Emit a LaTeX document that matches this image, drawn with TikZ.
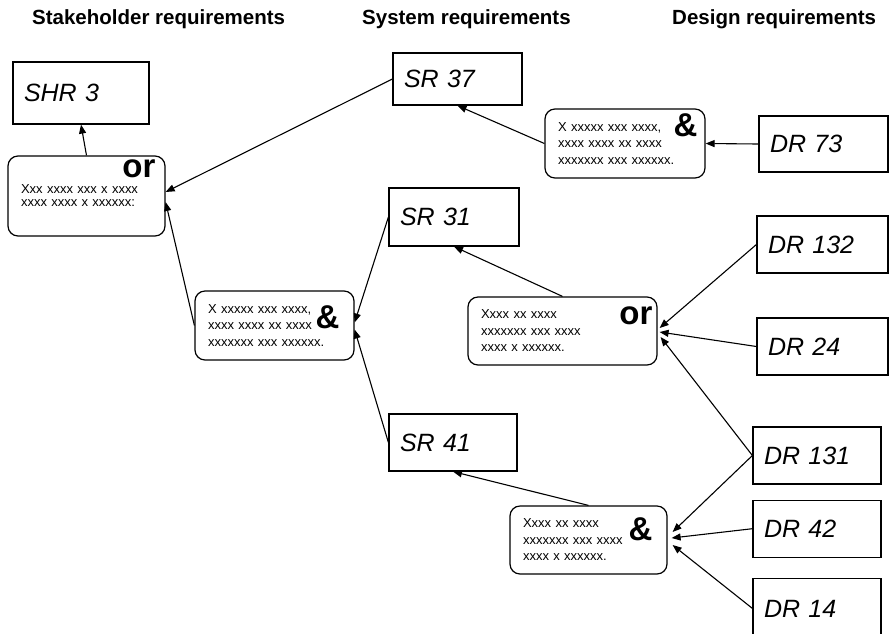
\documentclass[tikz,border=0pt]{standalone}
\usepackage{fontspec}
\setmainfont{Liberation Sans}
\usetikzlibrary{positioning, arrows.meta}
\tikzset{
  req/.style={draw, line width=1.2pt, inner xsep=11pt, inner ysep=0pt,
    text width=107pt, align=left, minimum height=57pt,
    font=\fontsize{25}{30}\selectfont\itshape},
  op/.style={draw, rounded corners=10pt, line width=1.2pt, inner xsep=13pt,
    inner ysep=0pt, minimum height=68pt, align=left,
    font=\fontsize{13}{16.5}\selectfont},
  gate/.style={inner sep=0pt, font=\fontsize{33}{38}\selectfont\bfseries},
  hdr/.style={anchor=base west, inner sep=0pt, font=\fontsize{20.5}{24}\selectfont\bfseries},
  flow/.style={-{Triangle[length=9pt, width=7pt]}, line width=1.1pt},
}
\begin{document}
\begin{tikzpicture}[x=1pt, y=-1pt, node distance=15pt and 10pt]
  \useasboundingbox (0,0) rectangle (889,633);
  \node[hdr] (h1) at (32,24) {Stakeholder requirements};
  \node[hdr] (h2) at (362,24) {System requirements};
  \node[hdr] (h3) at (672,24) {Design requirements};
  \node[req, text width=114pt, minimum height=62pt] (shr3) at (81,93) {SHR 3};
  \node[req, minimum height=52pt] (sr37) at (457.5,79) {SR 37};
  \node[req, text width=108pt, minimum height=58pt] (sr31) at (454,217) {SR 31};
  \node[req, text width=106pt] (sr41) at (453,442.5) {SR 41};
  \node[req, minimum height=56pt] (dr73) at (823.5,144) {DR 73};
  \node[req, text width=109pt] (dr132) at (822.5,244.5) {DR 132};
  \node[req, text width=109pt] (dr24) at (822.5,346.5) {DR 24};
  \node[req, text width=106pt] (dr131) at (817,455.5) {DR 131};
  \node[req, text width=106pt, below=of dr131] (dr42) {DR 42};
  \node[req, text width=106pt, minimum height=60pt, below=20pt of dr42] (dr14) {DR 14};
  \node[op, text width=131pt, minimum height=80pt, font=\fontsize{13}{13}\selectfont] (or1) at (86.5,196)
    {Xxx xxxx xxx x xxxx\\xxxx xxxx x xxxxxx:};
  \node[op, text width=134pt, minimum height=69pt] (and1) at (625,143.5)
    {X xxxxx xxx xxxx,\\xxxx xxxx xx xxxx\\xxxxxxx xxx xxxxxx.};
  \node[op, text width=133pt, minimum height=69pt] (and2) at (274.5,325.5)
    {X xxxxx xxx xxxx,\\xxxx xxxx xx xxxx\\xxxxxxx xxx xxxxxx.};
  \node[op, text width=163pt] (or2) at (562.5,331)
    {Xxxx xx xxxx\\xxxxxxx xxx xxxx\\xxxx x xxxxxx.};
  \node[op, text width=131pt] (and3) at (588.5,540)
    {Xxxx xx xxxx\\xxxxxxx xxx xxxx\\xxxx x xxxxxx.};
  \node[gate, below left=4pt and 10pt of or1.north east] (g1) {or};
  \node[gate, below left=5pt and 8pt of and1.north east] (g2) {\&};
  \node[gate, below left=15pt and 15pt of and2.north east] (g3) {\&};
  \node[gate, below left=10pt and 5pt of or2.north east] (g4) {or};
  \node[gate, below left=12pt and 15pt of and3.north east] (g5) {\&};
  \draw[flow] (or1.north) -- (shr3.south);
  \draw[flow] (sr37.west) -- ([yshift=4pt]or1.east);
  \draw[flow] (and2.west) -- ([yshift=-6pt]or1.east);
  \draw[flow] (sr31.west) -- ([yshift=3pt]and2.east);
  \draw[flow] (sr41.west) -- ([yshift=-4pt]and2.east);
  \draw[flow] (and1.west) -- (sr37.south);
  \draw[flow] (dr73.west) -- (and1.east);
  \draw[flow] (or2.north) -- (sr31.south);
  \draw[flow] (dr132.west) -- ([xshift=2pt, yshift=3pt]or2.east);
  \draw[flow] (dr24.west) -- ([xshift=2pt, yshift=-1pt]or2.east);
  \draw[flow] (dr131.west) -- ([xshift=3pt, yshift=-6pt]or2.east);
  \draw[flow] (dr131.west) -- ([xshift=5pt, yshift=8pt]and3.east);
  \draw[flow] (dr42.west) -- ([xshift=4pt, yshift=2pt]and3.east);
  \draw[flow] (dr14.west) -- ([xshift=5pt, yshift=-5pt]and3.east);
  \draw[flow] (and3.north) -- (sr41.south);
\end{tikzpicture}
\end{document}
